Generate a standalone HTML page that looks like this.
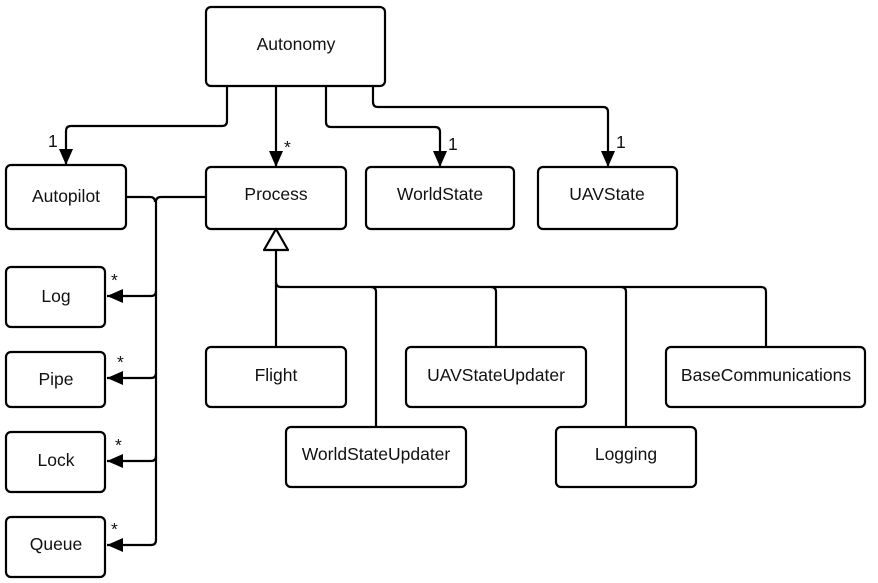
<!DOCTYPE html>
<html><head><meta charset="utf-8"><style>
body{margin:0;background:#fff}
svg{display:block}
text{font-family:"Liberation Sans",sans-serif;font-size:17.5px;fill:#111}
</style></head><body>
<svg width="878" height="583" viewBox="0 0 878 583">
<defs><marker id="b" markerWidth="18" markerHeight="16" refX="16" refY="7" orient="auto" markerUnits="userSpaceOnUse"><path d="M0,0 L16,7 L0,14Z" fill="#000"/></marker></defs>
<g fill="none" stroke="#000" stroke-width="2.2" stroke-linejoin="round">
<path d="M227,86 V121 Q227,126 222,126 H71 Q66,126 66,131 V165" marker-end="url(#b)"/>
<path d="M276,86 V167" marker-end="url(#b)"/>
<path d="M326,86 V122 Q326,127 331,127 H435 Q440,127 440,132 V167" marker-end="url(#b)"/>
<path d="M373,86 V102 Q373,107 378,107 H603 Q608,107 608,112 V167" marker-end="url(#b)"/>
<path d="M127,197 H150 Q155,197 155,202"/>
<path d="M206,197 H161 Q156,197 156,202 V540 Q156,545 151,545 H107" marker-end="url(#b)"/>
<path d="M156,291 Q156,296 151,296 H107" marker-end="url(#b)"/>
<path d="M156,373 Q156,378 151,378 H107" marker-end="url(#b)"/>
<path d="M156,456 Q156,461 151,461 H107" marker-end="url(#b)"/>
<path d="M276,250 V347"/>
<path d="M276,282 Q276,287 281,287 H761 Q766,287 766,292 V347"/>
<path d="M371,287 Q376,287 376,292 V427"/>
<path d="M491,287 Q496,287 496,292 V347"/>
<path d="M621,287 Q626,287 626,292 V427"/>
<path d="M276,229 L264,250 H288 Z" fill="#fff"/>
<rect x="206" y="7" width="179" height="79" rx="5"/>
<rect x="6" y="165" width="120" height="64" rx="5"/>
<rect x="206" y="167" width="140" height="62" rx="5"/>
<rect x="366" y="167" width="148" height="62" rx="5"/>
<rect x="538" y="167" width="139" height="62" rx="5"/>
<rect x="6" y="267" width="99" height="60" rx="5"/>
<rect x="6" y="352" width="99" height="55" rx="5"/>
<rect x="6" y="432" width="99" height="60" rx="5"/>
<rect x="6" y="517" width="99" height="60" rx="5"/>
<rect x="206" y="347" width="140" height="60" rx="5"/>
<rect x="406" y="347" width="180" height="60" rx="5"/>
<rect x="666" y="347" width="199" height="60" rx="5"/>
<rect x="286" y="427" width="180" height="60" rx="5"/>
<rect x="556" y="427" width="140" height="60" rx="5"/>
</g>
<g text-anchor="middle">
<text x="296" y="50">Autonomy</text>
<text x="66" y="202">Autopilot</text>
<text x="276" y="200">Process</text>
<text x="440" y="200">WorldState</text>
<text x="607" y="200">UAVState</text>
<text x="56" y="302">Log</text>
<text x="56" y="385">Pipe</text>
<text x="56" y="466">Lock</text>
<text x="56" y="550">Queue</text>
<text x="276" y="381">Flight</text>
<text x="496" y="381">UAVStateUpdater</text>
<text x="766" y="381">BaseCommunications</text>
<text x="376" y="460">WorldStateUpdater</text>
<text x="626" y="460">Logging</text>
</g>
<text x="48" y="147">1</text>
<text x="284" y="153" font-size="14">*</text>
<text x="448" y="150">1</text>
<text x="616" y="148">1</text>
<text x="111" y="286" font-size="14">*</text>
<text x="117" y="368" font-size="14">*</text>
<text x="115" y="451" font-size="14">*</text>
<text x="111" y="535" font-size="14">*</text>
</svg>
</body></html>
